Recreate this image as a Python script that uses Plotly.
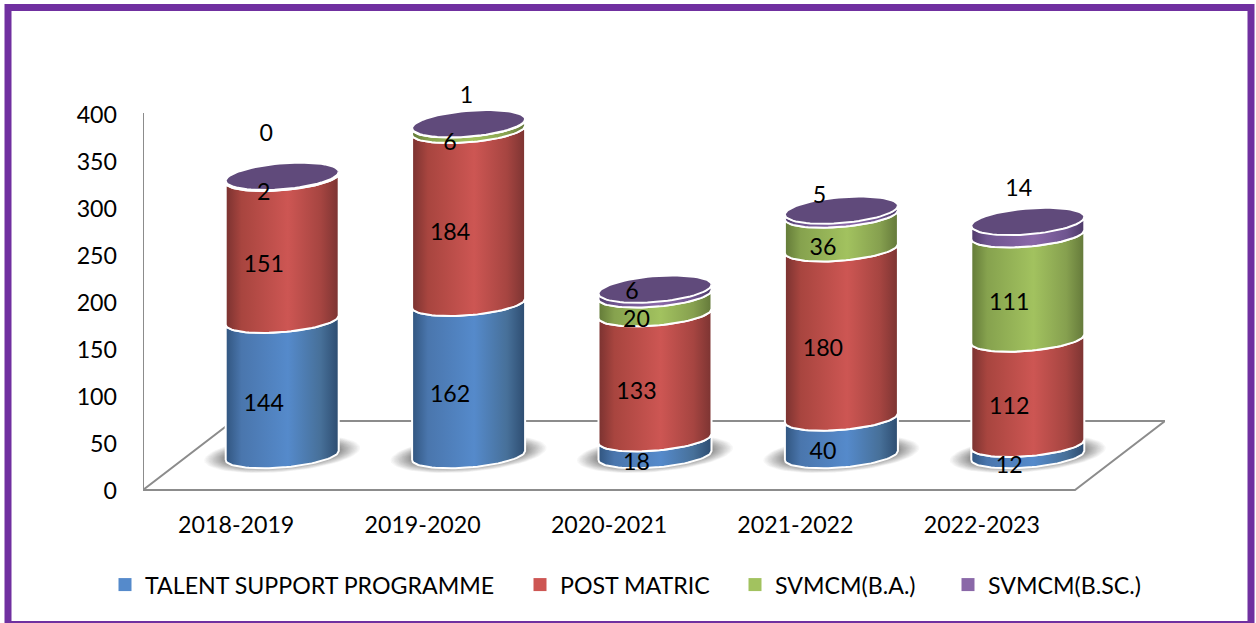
import math
import plotly.graph_objects as go

categories = ["2018-2019", "2019-2020", "2020-2021", "2021-2022", "2022-2023"]
series_names = ["TALENT SUPPORT PROGRAMME", "POST MATRIC", "SVMCM(B.A.)", "SVMCM(B.SC.)"]
talent = [144, 162, 18, 40, 12]
post_matric = [151, 184, 133, 180, 112]
svmcm_ba = [2, 6, 20, 36, 111]
svmcm_bsc = [0, 1, 6, 5, 14]
y_ticks = [0, 50, 100, 150, 200, 250, 300, 350, 400]

series_values = [talent, post_matric, svmcm_ba, svmcm_bsc]

W, H = 1256, 623
LEFT, RIGHT, TOP, BOTTOM = 143, 1165, 50, 491
SLOT = 186.4
PXV = 0.94
X0 = -0.5
X1 = X0 + (RIGHT - LEFT) / SLOT
Y1 = (BOTTOM - TOP) / PXV

DEPTH_X = 46 / SLOT
DEPTH_V = (BOTTOM - 455.5) / PXV
RX = 56.5 / SLOT
BP = 12.0 / PXV
SP = 4.5 / PXV
FLOOR_DX = 90 / SLOT
FLOOR_FRONT = (BOTTOM - 490) / PXV
FLOOR_BACK = (BOTTOM - 421) / PXV
AXIS_TOP = (BOTTOM - 113) / PXV

palette = [
    ("#31557f", "#4a76ad", "#558acb", "#477099", "#2d4c70"),
    ("#7a3230", "#a8453f", "#cd5653", "#a64541", "#7c3432"),
    ("#637a38", "#86a24e", "#a2c25f", "#86a04f", "#64793a"),
    ("#4f3a6a", "#6f5590", "#8a68a8", "#6f5590", "#4d3a68"),
]
CAP = "#604a7b"
GREY = "#8c8c8c"
FONT = "Lato"
TXT = 23.2


def grad(c):
    return dict(type="horizontal",
                colorscale=[[0, c[0]], [0.14, c[1]], [0.55, c[2]], [0.84, c[3]], [1, c[4]]])


def arc(cx, v, t0, t1, n=40, rx=RX, b=BP, s=SP):
    xs, ys = [], []
    for i in range(n + 1):
        t = t0 + (t1 - t0) * i / n
        xs.append(cx + rx * math.cos(t))
        ys.append(v - (b * math.sin(t) - s * math.cos(t)))
    return xs, ys


fig = go.Figure()

# floor and value axis line
fx = [X0, X0 + 5, X0 + 5 + FLOOR_DX, X0 + FLOOR_DX, X0, X0]
fy = [FLOOR_FRONT, FLOOR_FRONT, FLOOR_BACK, FLOOR_BACK, FLOOR_FRONT, AXIS_TOP]
fig.add_trace(go.Scatter(x=fx, y=fy, mode="lines", line=dict(color=GREY, width=2),
                         showlegend=False, hoverinfo="skip", cliponaxis=False))

# shadows: stacked translucent ellipses that fade outwards
LAYERS = 22
for i in range(len(categories)):
    cx = i + DEPTH_X
    for j in range(LAYERS):
        u = 1 - j / (LAYERS - 1)
        f = 1 + 0.38 * u ** 1.5
        xs, ys = arc(cx, DEPTH_V + 1.5, 0, 2 * math.pi, 60, RX * f,
                     BP * (1.0 + 0.5 * (f - 1) / 0.38), SP * f)
        fig.add_trace(go.Scatter(x=xs, y=ys, mode="lines", line=dict(width=0), fill="toself",
                                 fillcolor="rgba(70,70,70,0.045)", showlegend=False,
                                 hoverinfo="skip", cliponaxis=False))

# cylinders
for i in range(len(categories)):
    cx = i + DEPTH_X
    cum = DEPTH_V
    for k, vals in enumerate(series_values):
        v = vals[i]
        if v <= 0:
            continue
        lx, ly = arc(cx, cum, math.pi, 0)
        ux, uy = arc(cx, cum + v, 0, math.pi)
        fig.add_trace(go.Scatter(x=lx + ux + [lx[0]], y=ly + uy + [ly[0]], mode="lines",
                                 line=dict(color="white", width=2), fill="toself",
                                 fillgradient=grad(palette[k]), showlegend=False,
                                 hoverinfo="skip", cliponaxis=False))
        cum += v
    xs, ys = arc(cx, cum, 0, 2 * math.pi, 70, RX, BP * 1.08, SP)
    fig.add_trace(go.Scatter(x=xs, y=ys, mode="lines", line=dict(color="white", width=2),
                             fill="toself", fillcolor=CAP, showlegend=False,
                             hoverinfo="skip", cliponaxis=False))

# data labels
top_dx = [-16, -2, -23, -22, -9]
top_dy = [-45, -30, 1, -16, -35]
LABEL_SHIFT = 3.5
lab_x, lab_y, lab_t = [], [], []
for i in range(len(categories)):
    cx = i + DEPTH_X
    cum = DEPTH_V
    for k, vals in enumerate(series_values):
        v = vals[i]
        if k == 3:
            lab_x.append(cx + top_dx[i] / SLOT)
            lab_y.append(cum + v - (top_dy[i] + LABEL_SHIFT) / PXV)
        else:
            lab_x.append(cx - 18.5 / SLOT)
            lab_y.append(cum + v / 2 - (13.5 + LABEL_SHIFT) / PXV)
        lab_t.append(str(v))
        cum += v
fig.add_trace(go.Scatter(x=lab_x, y=lab_y, text=lab_t, mode="text",
                         textposition="middle center",
                         textfont=dict(family=FONT, size=TXT, color="black"),
                         showlegend=False, hoverinfo="skip", cliponaxis=False))

# legend, one small legend per series so each entry sits where the reference has it
legend_px = [105, 520, 735, 948]
legend_ids = ["legend", "legend2", "legend3", "legend4"]
legend_layouts = {}
for k, name in enumerate(series_names):
    fig.add_trace(go.Scatter(x=[None], y=[None], mode="markers", name=name,
                             marker=dict(symbol="square", size=13, color=palette[k][2]),
                             legend=legend_ids[k], showlegend=True))
    legend_layouts[legend_ids[k]] = dict(
        xref="container", yref="container", x=legend_px[k] / W, y=1 - 585 / H,
        xanchor="left", yanchor="middle", orientation="h", itemwidth=30,
        bgcolor="rgba(0,0,0,0)", borderwidth=0,
        font=dict(family=FONT, size=TXT, color="black"))

fig.update_layout(
    width=W, height=H,
    margin=dict(l=LEFT, r=W - RIGHT, t=TOP, b=H - BOTTOM, pad=0, autoexpand=False),
    paper_bgcolor="white", plot_bgcolor="rgba(0,0,0,0)",
    font=dict(family=FONT, size=TXT, color="black"),
    xaxis=dict(range=[X0, X1], tickmode="array", tickvals=list(range(5)), ticktext=categories,
               showgrid=False, zeroline=False, showline=False, ticks="", ticklabelstandoff=18),
    yaxis=dict(range=[0, Y1], tickmode="array", tickvals=y_ticks, showgrid=False, zeroline=False,
               showline=False, ticks="", ticklabelstandoff=25),
    shapes=[dict(type="rect", xref="paper", yref="paper",
                 x0=(8 - LEFT) / (RIGHT - LEFT), x1=(1251 - LEFT) / (RIGHT - LEFT),
                 y0=(BOTTOM - 624.5) / (BOTTOM - TOP), y1=(BOTTOM - 7.5) / (BOTTOM - TOP),
                 line=dict(color="#7030a0", width=7), fillcolor="rgba(0,0,0,0)", layer="below")],
    **legend_layouts,
)

fig.write_html("out.html", config={"displayModeBar": False},
               post_script="document.body.style.margin='0';document.body.style.overflow='hidden';")
